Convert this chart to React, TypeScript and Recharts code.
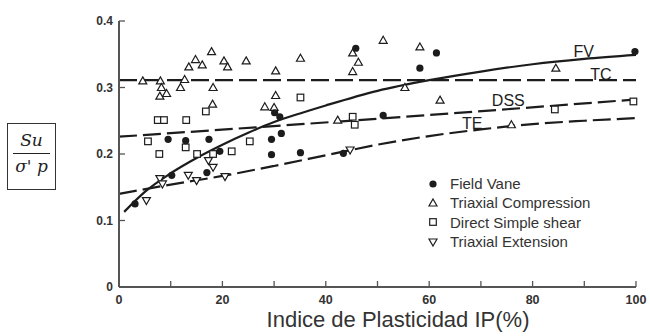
import { ComposedChart, Line, Scatter, XAxis, YAxis, ReferenceDot } from 'recharts'

// puntos medidos [IP, Su/σ'p]
const fieldVane: [number, number][] = [
  [3.1, 0.125], [10.2, 0.168], [17, 0.172], [9.5, 0.222], [12.9, 0.22], [17.4, 0.222],
  [19.5, 0.204], [29.5, 0.222], [31.4, 0.231], [30.1, 0.262], [31.1, 0.256], [29.5, 0.199],
  [35.1, 0.202], [43.4, 0.201], [45.8, 0.359], [51.1, 0.258], [58.2, 0.329], [61.4, 0.352],
  [99.8, 0.354],
]
const triaxialComp: [number, number][] = [
  [4.6, 0.31], [8, 0.31], [12.7, 0.312], [8.2, 0.3], [9.2, 0.291], [7.9, 0.287], [11.9, 0.3],
  [18.2, 0.3], [13.5, 0.331], [14.8, 0.342], [16.1, 0.334], [17.9, 0.354], [20.3, 0.34],
  [21, 0.331], [24.6, 0.34], [18.1, 0.275], [28.2, 0.271], [30, 0.27], [30.3, 0.288],
  [30.3, 0.325], [35.1, 0.344], [42.3, 0.251], [45.2, 0.352], [46.3, 0.338], [45.2, 0.324],
  [51.1, 0.371], [58.2, 0.361], [55.3, 0.3], [62.1, 0.281], [75.9, 0.244], [84.5, 0.329],
]
const directSimple: [number, number][] = [
  [5.6, 0.219], [7.5, 0.251], [8.7, 0.251], [13, 0.251], [16.8, 0.264], [7.8, 0.2],
  [12.9, 0.21], [15.1, 0.2], [18.2, 0.2], [21.8, 0.204], [25.3, 0.219], [35.1, 0.285],
  [45.2, 0.256], [45.6, 0.244], [84.3, 0.267], [99.5, 0.279],
]
const triaxialExt: [number, number][] = [
  [5.3, 0.13], [7.9, 0.163], [8.4, 0.155], [13.4, 0.168], [15, 0.16], [17.3, 0.19],
  [18.2, 0.18], [20.5, 0.166], [44.7, 0.206],
]

// curvas de ajuste
const fvCurve: [number, number][] = [
  [1, 0.113], [5, 0.143], [10, 0.171], [15, 0.194], [20, 0.214], [25, 0.232], [30, 0.248],
  [35, 0.261], [40, 0.273], [50, 0.295], [60, 0.311], [70, 0.324], [80, 0.335], [90, 0.343], [100, 0.349],
]
const tcCurve: [number, number][] = [[0, 0.311], [100, 0.311]]
const dssCurve: [number, number][] = [[0, 0.226], [50, 0.253], [100, 0.282]]
const teCurve: [number, number][] = [
  [0, 0.14], [10, 0.154], [20, 0.167], [30, 0.182], [40, 0.198], [50, 0.214], [60, 0.227],
  [70, 0.237], [80, 0.245], [90, 0.25], [100, 0.254],
]

const curveLabels = [
  { text: 'FV', ip: 89.9, v: 0.355 },
  { text: 'TC', ip: 93.2, v: 0.32 },
  { text: 'DSS', ip: 75.3, v: 0.281 },
  { text: 'TE', ip: 68.3, v: 0.246 },
]

const xTicks = [0, 10, 20, 30, 40, 50, 60, 70, 80, 90, 100]
const xLabels = [0, 20, 40, 60, 80, 100]
const yTicks = [0, 0.1, 0.2, 0.3, 0.4]

const INK = '#1c1c1c'
const FRAME = '#555'
const FONT = '"Liberation Sans", Arial, sans-serif'

const rows = (pts: [number, number][]) => pts.map(([ip, v]) => ({ ip, v }))

const DotShape = (p: any) => <circle cx={p.cx} cy={p.cy} r={3.6} fill={INK} />
const TriShape = (p: any) => (
  <path d={`M${p.cx},${p.cy - 4} L${p.cx + 4},${p.cy + 3} L${p.cx - 4},${p.cy + 3}Z`}
    fill="#fff" stroke={INK} strokeWidth={1.2} />
)
const SquareShape = (p: any) => (
  <rect x={p.cx - 3.3} y={p.cy - 3.3} width={6.6} height={6.6} fill="#fff" stroke={INK} strokeWidth={1.2} />
)
const InvTriShape = (p: any) => (
  <path d={`M${p.cx},${p.cy + 4} L${p.cx + 4},${p.cy - 3} L${p.cx - 4},${p.cy - 3}Z`}
    fill="#fff" stroke={INK} strokeWidth={1.2} />
)

const BottomTick = ({ x, y, payload }: any) => (
  <g>
    <line x1={x} y1={y} x2={x} y2={y - 6} stroke={FRAME} strokeWidth={1.3} />
    {xLabels.includes(payload.value) && (
      <text x={x} y={y + 17} textAnchor="middle" fontSize={12.5} fontWeight="bold" fill="#333" fontFamily={FONT}>
        {payload.value}
      </text>
    )}
  </g>
)
const TopTick = ({ x, y }: any) => <line x1={x} y1={y} x2={x} y2={y + 6} stroke={FRAME} strokeWidth={1.3} />
const LeftTick = ({ x, y, payload }: any) => (
  <g>
    <line x1={x} y1={y} x2={x + 6} y2={y} stroke={FRAME} strokeWidth={1.3} />
    <text x={x - 6} y={y + 4} textAnchor="end" fontSize={12} fontWeight="bold" fill="#333" fontFamily={FONT}>
      {payload.value}
    </text>
  </g>
)
const RightTick = ({ x, y }: any) => <line x1={x} y1={y} x2={x - 6} y2={y} stroke={FRAME} strokeWidth={1.3} />

const legendItems = [
  { label: 'Field Vane', Shape: DotShape },
  { label: 'Triaxial Compression', Shape: TriShape },
  { label: 'Direct Simple shear', Shape: SquareShape },
  { label: 'Triaxial Extension', Shape: InvTriShape },
]

export default function App() {
  return (
    <div style={{ position: 'relative', width: 650, height: 336, background: '#fff', fontFamily: FONT }}>
      <style>{'body{margin:0}'}</style>
      <ComposedChart width={650} height={336} margin={{ top: 21, right: 14, bottom: 24, left: 79 }}>
        <XAxis dataKey="ip" type="number" domain={[0, 100]} ticks={xTicks} height={25}
          tickSize={0} tickMargin={0} tick={<BottomTick />} axisLine={{ stroke: FRAME, strokeWidth: 2 }} />
        <XAxis xAxisId="top" orientation="top" type="number" domain={[0, 100]} ticks={xTicks} height={0}
          tickSize={0} tickMargin={0} tick={<TopTick />} axisLine={{ stroke: FRAME, strokeWidth: 2 }} />
        <YAxis type="number" domain={[0, 0.4]} ticks={yTicks} width={40}
          tickSize={0} tickMargin={0} tick={<LeftTick />} axisLine={{ stroke: FRAME, strokeWidth: 2 }} />
        <YAxis yAxisId="right" orientation="right" type="number" domain={[0, 0.4]} ticks={yTicks} width={0}
          tickSize={0} tickMargin={0} tick={<RightTick />} axisLine={{ stroke: FRAME, strokeWidth: 2 }} />

        <Line data={rows(tcCurve)} dataKey="v" type="linear" stroke={INK} strokeWidth={2.2}
          strokeDasharray="18 6" dot={false} isAnimationActive={false} />
        <Line data={rows(dssCurve)} dataKey="v" type="monotone" stroke={INK} strokeWidth={2.2}
          strokeDasharray="18 6" dot={false} isAnimationActive={false} />
        <Line data={rows(teCurve)} dataKey="v" type="monotone" stroke={INK} strokeWidth={2.2}
          strokeDasharray="18 6" dot={false} isAnimationActive={false} />
        <Line data={rows(fvCurve)} dataKey="v" type="monotone" stroke={INK} strokeWidth={2.2}
          dot={false} isAnimationActive={false} />

        <Scatter data={rows(triaxialComp)} dataKey="v" shape={TriShape} isAnimationActive={false} />
        <Scatter data={rows(directSimple)} dataKey="v" shape={SquareShape} isAnimationActive={false} />
        <Scatter data={rows(triaxialExt)} dataKey="v" shape={InvTriShape} isAnimationActive={false} />
        <Scatter data={rows(fieldVane)} dataKey="v" shape={DotShape} isAnimationActive={false} />

        {curveLabels.map((c) => (
          <ReferenceDot key={c.text} x={c.ip} y={c.v} r={0} fill="none" stroke="none"
            label={{ value: c.text, position: 'center', fontSize: 16, fill: INK, fontFamily: FONT }} />
        ))}
      </ComposedChart>

      <div style={{ position: 'absolute', left: 426, top: 174, fontSize: 15, color: '#333', lineHeight: '19.3px' }}>
        {legendItems.map(({ label, Shape }) => (
          <div key={label} style={{ display: 'flex', alignItems: 'center', whiteSpace: 'nowrap' }}>
            <svg width={16} height={12} style={{ marginRight: 8 }}>
              <Shape cx={7} cy={6} />
            </svg>
            {label}
          </div>
        ))}
      </div>

      <div style={{
        position: 'absolute', left: 7, top: 123, width: 47, height: 65, border: '1px solid #333',
        fontFamily: '"DejaVu Serif", "Liberation Serif", serif', fontStyle: 'italic', fontSize: 17,
        color: '#222', textAlign: 'center',
      }}>
        <div style={{ marginTop: 6 }}>Su</div>
        <div style={{ borderTop: '1px solid #222', margin: '3px 5px 2px' }} />
        <div>σ' p</div>
      </div>

      <div style={{ position: 'absolute', left: 0, width: 796, top: 307, textAlign: 'center', fontSize: 22, color: '#333' }}>
        Indice de Plasticidad IP(%)
      </div>
    </div>
  )
}
